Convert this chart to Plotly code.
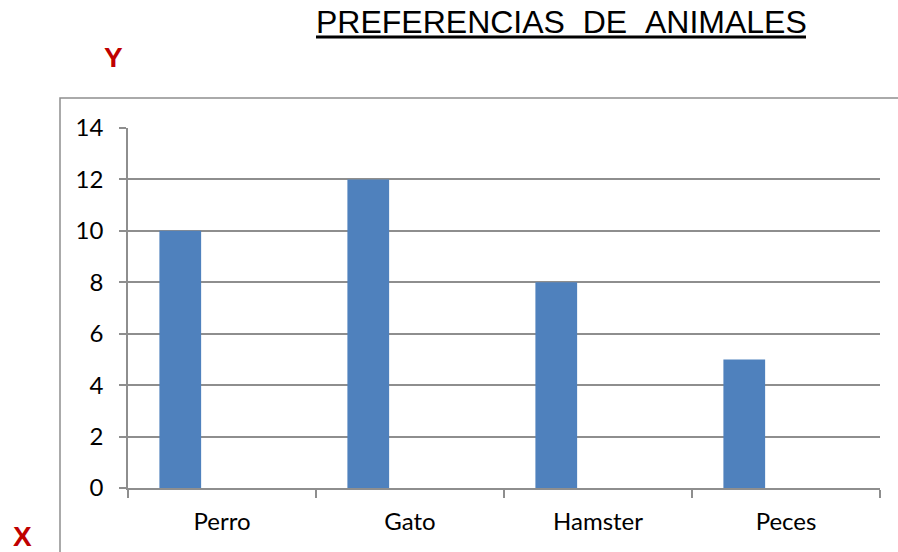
import plotly.graph_objects as go

categories = ["Perro", "Gato", "Hamster", "Peces"]
values = [10, 12, 8, 5]
y_ticks = [0, 2, 4, 6, 8, 10, 12, 14]

title_text = "PREFERENCIAS&nbsp;&nbsp;DE&nbsp;&nbsp;ANIMALES"
grid = "#8e8e8e"

fig = go.Figure()
fig.add_trace(go.Bar(
    x=categories, y=values,
    offset=-0.333, width=0.222,
    marker=dict(color="#4f81bd", line=dict(width=0)),
    hoverinfo="x+y",
))

fig.update_layout(
    width=898, height=552,
    margin=dict(l=128, r=18, t=128, b=64),
    paper_bgcolor="white", plot_bgcolor="white",
    showlegend=False,
    font=dict(family="Lato", size=24, color="black"),
    xaxis=dict(
        type="category", showgrid=False, showline=True, linecolor=grid, linewidth=1.5,
        ticks="outside", ticklen=8, tickcolor=grid, tickwidth=1.5, tickson="boundaries",
        tickfont=dict(family="Lato", size=24), ticklabelstandoff=11,
        range=[-0.5, 3.5], fixedrange=True,
    ),
    yaxis=dict(
        range=[0, 14], tickvals=y_ticks, showgrid=True, gridcolor=grid, gridwidth=1.5,
        showline=True, linecolor=grid, linewidth=1.5,
        ticks="outside", ticklen=7, tickcolor=grid, tickwidth=1.5,
        tickfont=dict(family="Lato", size=24), ticklabelstandoff=11,
        zeroline=False, fixedrange=True,
    ),
    shapes=[
        dict(type="rect", xref="paper", yref="paper",
             x0=(60 - 128) / 752, x1=1.2, y0=-0.5, y1=(488 - 98) / 360,
             line=dict(color=grid, width=1.5), fillcolor="rgba(0,0,0,0)", layer="below"),
        dict(type="line", xref="paper", yref="paper",
             x0=(316 - 128) / 752, x1=(806 - 128) / 752,
             y0=(488 - 37) / 360, y1=(488 - 37) / 360,
             line=dict(color="black", width=3)),
    ],
    annotations=[
        dict(text=title_text, xref="paper", yref="paper",
             x=(561 - 128) / 752, y=(488 - 22) / 360, xanchor="center", yanchor="middle",
             showarrow=False, font=dict(family="Liberation Sans", size=32, color="black")),
        dict(text="<b>Y</b>", xref="paper", yref="paper",
             x=(113.5 - 128) / 752, y=(488 - 57) / 360, xanchor="center", yanchor="middle",
             showarrow=False, font=dict(family="Liberation Sans", size=28, color="#c00000")),
        dict(text="<b>X</b>", xref="paper", yref="paper",
             x=(22.5 - 128) / 752, y=(488 - 536) / 360, xanchor="center", yanchor="middle",
             showarrow=False, font=dict(family="Liberation Sans", size=28, color="#c00000")),
    ],
)

fig.write_html("out.html", config={"displayModeBar": False},
               post_script="document.body.style.margin='0px';")
